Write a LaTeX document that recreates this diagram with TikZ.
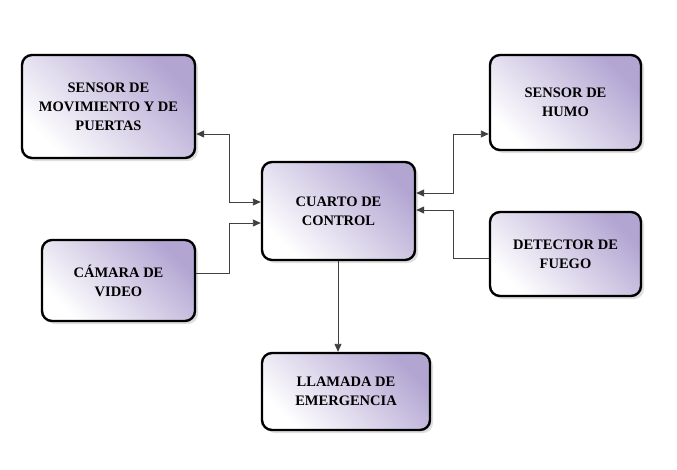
\documentclass[tikz,border=0pt]{standalone}
\usepackage{fontspec}
\setmainfont{Liberation Serif}
\usetikzlibrary{arrows.meta,shadows}
\definecolor{lav}{RGB}{178,165,210}
\begin{document}
\begin{tikzpicture}[x=1pt,y=-1pt,
  box/.style={draw=black,line width=2.4pt,rounded corners=10pt,
    left color=white,right color=lav,shading angle=135,
    drop shadow={shadow xshift=3pt,shadow yshift=-3pt,fill=gray!50},
    align=center,font=\bfseries\fontsize{14.5}{19}\selectfont,inner sep=0pt},
  tip/.style={Triangle[length=8pt,width=7pt]},
  con/.style={draw=black!75,line width=0.9pt,-{Triangle[length=8pt,width=7pt]}}]
\useasboundingbox (0,0) rectangle (677,469);
\node[box,minimum width=173pt,minimum height=103pt] (a) at (108.5,106.5) {SENSOR DE\\MOVIMIENTO Y DE\\PUERTAS};
\node[box,minimum width=153pt,minimum height=81pt] (b) at (118.5,280.5) {CÁMARA DE\\VIDEO};
\node[box,minimum width=153pt,minimum height=98pt] (c) at (338.5,211) {CUARTO DE\\CONTROL};
\node[box,minimum width=151pt,minimum height=95pt] (d) at (565.5,102.5) {SENSOR DE\\HUMO};
\node[box,minimum width=151pt,minimum height=84pt] (e) at (565.5,254) {DETECTOR DE\\FUEGO};
\node[box,minimum width=168pt,minimum height=77pt] (f) at (346,391.5) {LLAMADA DE\\EMERGENCIA};
\coordinate (ca) at (c.west|-0,202);
\coordinate (cb) at (c.west|-0,223);
\coordinate (cd) at (c.east|-0,193);
\coordinate (ce) at (c.east|-0,210);
\draw[con,{Triangle[length=8pt,width=7pt]}-{Triangle[length=8pt,width=7pt]}] (a.east|-0,134) -| (229,202) -- (ca);
\draw[con] (b.east|-0,273) -| (229,223) -- (cb);
\draw[con,{Triangle[length=8pt,width=7pt]}-{Triangle[length=8pt,width=7pt]}] (d.west|-0,134) -| (453,193) -- (cd);
\draw[con] (e.west|-0,258) -| (453,210) -- (ce);
\draw[con] (c.south-|338,0) -- (f.north-|338,0);
\end{tikzpicture}
\end{document}
